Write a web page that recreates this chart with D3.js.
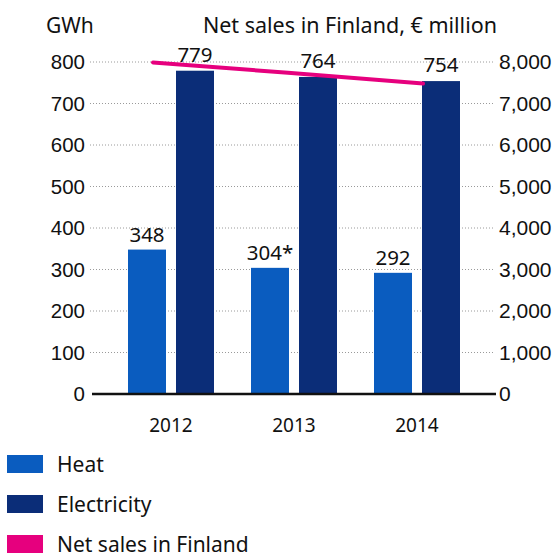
<!DOCTYPE html>
<html>
<head>
<meta charset="utf-8">
<script src="https://cdn.jsdelivr.net/npm/d3@7"></script>
<style>
  html, body { margin: 0; padding: 0; background: #fff; }
  svg { display: block; font-family: "Noto Sans", "Open Sans", sans-serif; }
</style>
</head>
<body>
<svg id="chart" width="560" height="557"></svg>
<script>
// Energy volumes (GWh) and net sales in Finland (€ million)
const years = ["2012", "2013", "2014"];
const heat = [348, 304, 292];
const electricity = [779, 764, 754];
const netSales = [7990, 7740, 7480];
const heatLabels = ["348", "304*", "292"];
const elecLabels = ["779", "764", "754"];
const leftTicks = [0, 100, 200, 300, 400, 500, 600, 700, 800];
const rightTicks = [0, 1000, 2000, 3000, 4000, 5000, 6000, 7000, 8000];

const colors = { heat: "#0a5cbf", electricity: "#0b2d78", sales: "#e6007e" };
const ink = "#111";
const fs = 20.5;

const svg = d3.select("#chart");

const y = d3.scaleLinear().domain([0, 800]).range([394, 62]);
const yRight = d3.scaleLinear().domain([0, 8000]).range([394, 62]);
const x = d3.scaleBand().domain(years).range([109.5, 478.5]).padding(0);
const xSub = d3.scaleBand().domain(["heat", "electricity"]).range([18.5, 104.5]).paddingInner(0.2083);
const xLine = d3.scalePoint().domain(years).range([153, 423]);

// Dotted grid lines
svg.append("g")
  .selectAll("line")
  .data(leftTicks.filter(d => d > 0))
  .join("line")
  .attr("x1", 90).attr("x2", 494)
  .attr("y1", d => y(d)).attr("y2", d => y(d))
  .attr("stroke", "#9a9a9a")
  .attr("stroke-width", 1)
  .attr("stroke-dasharray", "1,2");

// Left axis labels
const leftAxis = d3.axisLeft(y).tickValues(leftTicks).tickSize(0).tickPadding(0);
const gl = svg.append("g").attr("transform", "translate(85,0)").call(leftAxis);
gl.select(".domain").remove();
gl.selectAll("text").attr("font-size", fs).attr("fill", ink).attr("font-family", "inherit");

// Right axis labels
const rightAxis = d3.axisRight(yRight).tickValues(rightTicks).tickSize(0).tickPadding(0)
  .tickFormat(d3.format(","));
const gr = svg.append("g").attr("transform", "translate(499,0)").call(rightAxis);
gr.select(".domain").remove();
gr.selectAll("text").attr("font-size", 21).attr("fill", ink).attr("font-family", "inherit");

// Bars
const groups = svg.append("g").selectAll("g")
  .data(years)
  .join("g")
  .attr("transform", d => `translate(${x(d)},0)`);

groups.append("rect")
  .attr("x", xSub("heat"))
  .attr("width", xSub.bandwidth())
  .attr("y", (d, i) => y(heat[i]))
  .attr("height", (d, i) => y(0) - y(heat[i]))
  .attr("fill", colors.heat);

groups.append("rect")
  .attr("x", xSub("electricity"))
  .attr("width", xSub.bandwidth())
  .attr("y", (d, i) => y(electricity[i]))
  .attr("height", (d, i) => y(0) - y(electricity[i]))
  .attr("fill", colors.electricity);

// Value labels
groups.append("text")
  .attr("x", xSub("heat") + xSub.bandwidth() / 2)
  .attr("y", (d, i) => y(heat[i]) - 8)
  .attr("text-anchor", "middle")
  .attr("font-size", fs).attr("fill", ink)
  .text((d, i) => heatLabels[i]);

groups.append("text")
  .attr("x", xSub("electricity") + xSub.bandwidth() / 2)
  .attr("y", (d, i) => y(electricity[i]) - 9)
  .attr("text-anchor", "middle")
  .attr("font-size", fs).attr("fill", ink)
  .text((d, i) => elecLabels[i]);

// Baseline
svg.append("line")
  .attr("x1", 92).attr("x2", 496)
  .attr("y1", y(0)).attr("y2", y(0))
  .attr("stroke", ink).attr("stroke-width", 2.5);

// Year labels
svg.append("g").selectAll("text")
  .data(years)
  .join("text")
  .attr("x", d => x(d) + x.bandwidth() / 2)
  .attr("y", 432)
  .attr("text-anchor", "middle")
  .attr("font-size", 19).attr("fill", ink)
  .text(d => d);

// Net sales line
const line = d3.line().x((d, i) => xLine(years[i])).y(d => yRight(d));
svg.append("path")
  .datum(netSales)
  .attr("d", line)
  .attr("fill", "none")
  .attr("stroke", colors.sales)
  .attr("stroke-width", 4)
  .attr("stroke-linecap", "round");

// Axis titles
svg.append("text").attr("x", 46).attr("y", 33)
  .attr("font-size", 21).attr("fill", ink).text("GWh");
svg.append("text").attr("x", 497).attr("y", 33)
  .attr("text-anchor", "end")
  .attr("font-size", 21.5).attr("fill", ink).text("Net sales in Finland, € million");

// Legend
const legend = [
  { label: "Heat", color: colors.heat },
  { label: "Electricity", color: colors.electricity },
  { label: "Net sales in Finland", color: colors.sales }
];
const lg = svg.append("g").selectAll("g")
  .data(legend)
  .join("g")
  .attr("transform", (d, i) => `translate(7,${455 + i * 40})`);
lg.append("rect").attr("width", 36).attr("height", 18).attr("fill", d => d.color);
lg.append("text").attr("x", 50).attr("y", 17)
  .attr("font-size", 21).attr("fill", ink).text(d => d.label);
</script>
</body>
</html>
